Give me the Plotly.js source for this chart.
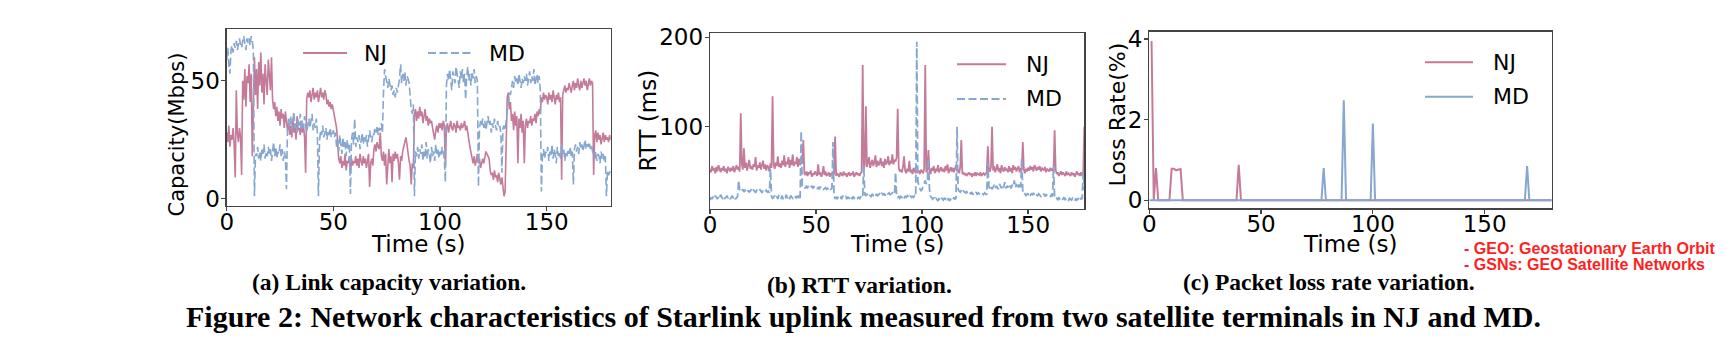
<!DOCTYPE html>
<html><head><meta charset="utf-8">
<script src="https://cdn.plot.ly/plotly-3.0.1.min.js"></script>
<style>html,body{margin:0;padding:0;background:#fff;overflow:hidden}#chart{width:1735px;height:343px}</style>
</head><body><div id="chart"></div>
<script>
// ---------- data ----------
const seriesNames = ['NJ', 'MD'];
const capStep = 0.5;   // seconds between capacity samples
const capNJ = [
28,24,31,22,27,25,30,23,9,46,28,24,30,26,10,50,42,55,39,52,
49,57,41,53,18,47,60,44,55,38,58,48,62,45,53,40,57,50,44,59,
52,46,60,42,38,41,35,39,33,37,31,38,34,36,30,37,33,29,32,27,
31,26,34,28,32,25,35,29,30,27,33,28,31,26,11,42,45,43,46,41,
44,47,42,45,43,46,41,44,47,43,45,42,46,44,40,42,39,41,38,40,
37,35,32,30,24,17,15,18,13,16,14,19,12,16,15,18,11,17,14,16,
15,18,14,17,13,19,16,14,18,15,17,13,16,19,5,15,17,14,21,23,
20,24,22,21,28,18,16,20,14,19,6,17,21,15,18,7,19,16,20,17,
19,15,8,18,16,20,22,25,26,23,19,16,14,6,15,13,36,38,33,37,
34,39,35,37,32,36,38,33,35,31,34,32,33,30,27,25,29,31,28,32,
30,32,29,33,31,14,30,32,28,31,33,30,29,32,31,28,33,30,31,29,
32,30,31,33,29,31,27,25,22,20,17,15,18,14,16,19,15,17,13,16,
17,15,18,20,19,18,17,12,10,11,8,12,9,10,7,11,8,6,9,4,
1,3,30,43,45,38,41,33,36,29,37,31,35,15,34,30,36,28,33,15,
31,34,30,33,32,35,31,34,33,36,32,37,35,38,36,43,41,45,42,44,
43,40,45,42,44,41,46,43,40,44,42,45,41,43,8,44,46,48,45,47,
46,49,47,45,48,50,46,49,47,51,48,46,50,47,49,51,48,50,46,49,
51,48,50,49,10,27,29,24,28,25,27,23,26,28,24,27,25,26,24,27,25];
const capMD = [
59,64,57,53,63,65,62,66,64,67,63,66,68,65,64,67,69,66,63,68,
66,68,65,69,67,63,1,19,18,22,17,20,16,21,19,23,17,20,18,22,
19,21,16,20,24,18,22,17,20,19,23,18,21,16,20,18,4,30,34,31,
35,29,33,37,30,32,28,34,31,36,29,33,30,35,32,28,31,34,30,33,
36,29,32,30,34,28,1,24,29,27,31,26,28,30,25,29,27,30,26,28,
29,26,28,22,25,20,27,23,19,26,22,24,18,25,21,23,2,25,28,23,
34,22,26,24,27,21,25,28,23,26,24,27,22,25,29,26,24,28,27,30,
28,31,27,30,29,32,28,45,55,52,50,47,51,49,46,48,44,46,43,47,
45,48,51,57,49,53,50,54,48,52,51,49,42,38,36,40,1,20,18,22,
17,21,19,23,16,20,18,24,17,21,19,15,22,18,20,16,23,19,21,17,
20,18,22,19,17,7,48,53,50,55,51,46,54,52,49,56,53,50,47,54,
51,55,49,53,42,52,56,50,53,48,54,51,55,49,52,50,5,30,33,31,
34,30,33,29,32,35,31,33,28,32,30,34,31,29,33,30,31,28,11,30,
31,29,33,38,42,45,44,48,50,47,52,49,51,48,53,50,47,51,49,52,
50,53,48,51,54,49,52,50,55,48,51,53,49,52,46,3,18,21,17,20,
19,22,16,20,18,23,17,21,19,15,22,18,20,17,23,19,21,16,20,18,
21,19,22,18,20,6,21,23,20,22,19,24,21,23,20,22,25,21,23,22,
24,21,23,20,19,17,20,16,19,18,15,20,17,19,16,18,1,12,10,11,12];

const rttStep = 0.5;   // seconds between RTT samples
const rttNJ = [
53,49,56,51,54,48,55,50,57,52,49,54,51,56,50,53,48,55,52,50,
54,51,56,49,53,57,52,55,50,115,58,52,76,54,60,51,57,63,53,56,
52,58,55,66,51,57,54,60,52,56,62,53,58,51,57,55,50,59,54,134,
58,53,60,56,67,55,59,54,62,57,68,55,61,58,66,54,63,57,69,56,
61,58,66,55,64,57,60,59,85,48,46,50,45,49,47,51,44,48,46,50,
47,45,58,46,49,44,48,56,46,50,45,47,49,44,48,46,50,47,89,45,
48,46,44,49,47,45,50,46,48,44,47,49,45,48,46,50,44,47,49,46,
48,45,47,50,169,52,58,123,55,61,66,54,59,63,56,60,68,55,62,57,
59,65,56,61,54,64,58,60,67,57,62,59,69,58,63,61,66,120,54,50,
52,49,55,67,51,48,53,50,62,49,52,47,54,50,48,53,49,51,47,52,
50,48,53,169,49,52,74,50,47,54,51,56,48,53,50,57,49,52,55,50,
53,49,56,51,58,48,52,55,50,54,49,53,57,50,52,48,55,85,47,49,
46,48,45,47,49,46,48,44,47,46,49,45,48,47,46,49,45,47,48,46,
47,49,78,52,50,55,100,51,56,49,53,58,50,54,48,57,52,50,55,51,
53,49,56,50,54,48,57,52,55,50,53,56,49,54,51,83,52,48,53,50,
54,51,56,52,55,50,57,53,51,55,52,56,50,54,53,51,55,49,53,52,
50,54,51,53,49,96,52,47,49,45,48,50,46,49,47,45,50,46,48,47,
45,49,46,48,44,47,50,46,48,45,49,46,47,100];
const rttMD = [
18,21,19,22,20,23,21,19,22,20,24,21,19,22,20,21,23,20,22,19,
21,23,20,22,19,21,22,40,29,27,28,30,27,29,28,26,29,27,28,30,
27,29,28,26,29,28,27,30,28,26,29,27,28,29,27,28,26,53,22,20,
21,23,20,22,19,24,21,20,23,19,22,21,24,20,22,19,23,21,20,22,
23,20,22,21,24,20,95,34,32,33,31,34,32,33,31,32,34,31,33,32,
33,31,32,30,33,31,32,30,31,32,30,31,29,31,30,31,83,22,20,21,
19,22,20,21,19,23,20,21,22,19,21,20,23,21,19,22,20,21,22,20,
21,19,22,20,21,57,24,23,25,22,24,23,22,25,23,24,22,25,23,24,
25,23,26,24,25,23,26,24,25,26,24,25,26,24,25,49,23,21,22,20,
22,21,23,20,22,21,23,22,20,23,21,22,21,23,22,195,40,33,30,28,
30,34,38,40,36,38,64,30,22,20,19,21,18,20,19,17,20,18,21,19,
18,20,19,21,18,20,17,19,20,18,21,19,20,100,30,28,27,29,26,28,
27,26,28,25,27,26,25,27,24,26,25,27,24,26,25,24,26,25,24,26,
25,24,60,33,31,34,30,33,35,31,34,32,30,36,33,31,35,32,38,31,
34,32,36,33,31,35,33,40,32,35,34,33,37,32,65,26,24,25,23,25,
24,26,23,25,24,26,23,25,24,23,25,24,22,24,23,25,22,24,23,22,
23,22,24,22,56,21,19,20,18,21,19,20,18,19,21,18,20,19,17,20,
19,18,20,19,17,20,18,19,21,18,20,19,50,30];

const lossTimeNJ = [1, 2, 3, 4, 9, 10, 11, 12, 13, 14, 15, 39, 40, 41, 180];
const lossNJ     = [3.95, 0, 0.8, 0, 0, 0.78, 0.78, 0.74, 0.76, 0.77, 0, 0, 0.88, 0, 0];
const lossTimeMD = [0, 77, 78, 79, 86, 87, 88, 99, 100, 101, 168, 169, 170, 180];
const lossMD     = [0, 0, 0.8, 0, 0, 2.48, 0, 0, 1.9, 0, 0, 0.85, 0, 0];

const timeTicks = [0, 50, 100, 150];
const capTicks = [0, 50];
const rttTicks = [100, 200];
const lossTicks = [0, 2, 4];

const xTitle = 'Time (s)';
const capTitle = 'Capacity(Mbps)';
const rttTitle = 'RTT (ms)';
const lossTitle = 'Loss Rate(%)';
const subCaptions = ['(a) Link capacity variation.', '(b) RTT variation.', '(c) Packet loss rate variation.'];
const figCaption = 'Figure 2: Network characteristics of Starlink uplink measured from two satellite terminals in NJ and MD.';
const notes = ['- GEO: Geostationary Earth Orbit', '- GSNs: GEO Satellite Networks'];

// ---------- drawing ----------
const W = 1735, H = 343;
const px = v => v / W, py = v => 1 - v / H;
const C_NJ = '#c47a99', C_MD = '#86a7d0';
const DASH = '8px,3.5px';
const times = (arr, step) => arr.map((_, i) => i * step);

const traces = [
  {x: times(capNJ, capStep), y: capNJ, xaxis: 'x', yaxis: 'y', name: seriesNames[0], mode: 'lines', line: {color: C_NJ, width: 1.6}},
  {x: times(capMD, capStep), y: capMD, xaxis: 'x', yaxis: 'y', name: seriesNames[1], mode: 'lines', line: {color: C_MD, width: 1.6, dash: DASH}},
  {x: times(rttNJ, rttStep), y: rttNJ, xaxis: 'x2', yaxis: 'y2', name: seriesNames[0], mode: 'lines', line: {color: C_NJ, width: 1.8}},
  {x: times(rttMD, rttStep), y: rttMD, xaxis: 'x2', yaxis: 'y2', name: seriesNames[1], mode: 'lines', line: {color: C_MD, width: 1.8, dash: DASH}},
  {x: lossTimeNJ, y: lossNJ, xaxis: 'x3', yaxis: 'y3', name: seriesNames[0], mode: 'lines', line: {color: C_NJ, width: 2}},
  {x: lossTimeMD, y: lossMD, xaxis: 'x3', yaxis: 'y3', name: seriesNames[1], mode: 'lines', line: {color: C_MD, width: 2}}
];

const tickFont = {family: 'DejaVu Sans', size: 23, color: '#000'};
function ax(extra) {
  return Object.assign({showline: true, mirror: true, linecolor: '#444', linewidth: 1.3,
    ticks: 'outside', ticklen: 4, tickwidth: 1.2, tickcolor: '#444',
    showgrid: false, zeroline: false, tickfont: tickFont, fixedrange: true}, extra);
}
const xs = {ticklabelstandoff: -9};
const ys = {ticklabelstandoff: -3};

const layout = {
  width: W, height: H, margin: {l: 0, r: 0, t: 0, b: 0},
  paper_bgcolor: '#fff', plot_bgcolor: '#fff', showlegend: false,
  xaxis:  ax(Object.assign({domain: [px(226.7), px(610.7)], range: [0, 180], tickvals: timeTicks, anchor: 'y'}, xs)),
  yaxis:  ax(Object.assign({domain: [py(205.7), py(29)], range: [-3, 72], tickvals: capTicks, anchor: 'x'}, ys)),
  xaxis2: ax(Object.assign({domain: [px(710), px(1084.3)], range: [0, 176.5], tickvals: timeTicks, anchor: 'y2'}, xs)),
  yaxis2: ax(Object.assign({domain: [py(209), py(33.3)], range: [8, 204.5], tickvals: rttTicks, anchor: 'x2'}, ys)),
  xaxis3: ax(Object.assign({domain: [px(1149.3), px(1551.7)], range: [0, 180], tickvals: timeTicks, anchor: 'y3'}, xs)),
  yaxis3: ax(Object.assign({domain: [py(208.3), py(31.7)], range: [-0.2, 4.18], tickvals: lossTicks, anchor: 'x3'}, ys)),
  shapes: [], annotations: []
};

function txt(text, x, y, opts) {
  layout.annotations.push(Object.assign({text: text, x: px(x), y: py(y), xref: 'paper', yref: 'paper',
    showarrow: false, xanchor: 'center', yanchor: 'middle',
    font: {family: 'DejaVu Sans', size: 23, color: '#000'}}, opts || {}));
}
function legLine(x0, x1, y, color, dash) {
  layout.shapes.push({type: 'line', xref: 'paper', yref: 'paper', x0: px(x0), x1: px(x1), y0: py(y), y1: py(y),
    line: {color: color, width: 2, dash: dash || 'solid'}});
}

// axis titles
txt(xTitle, 418, 244);
txt(xTitle, 897.5, 244);
txt(xTitle, 1350, 244);
txt(capTitle, 176.5, 135, {textangle: -90, font: {family: 'DejaVu Sans', size: 21, color: '#000'}});
txt(rttTitle, 647.5, 121, {textangle: -90});
txt(lossTitle, 1117, 114.5, {textangle: -90, font: {family: 'DejaVu Sans', size: 22, color: '#000'}});

// legends
const legFont = {family: 'DejaVu Sans', size: 22, color: '#000'};
legLine(303, 347, 53, C_NJ); txt(seriesNames[0], 362, 53, {xanchor: 'left', font: legFont});
legLine(428, 472, 53, C_MD, DASH); txt(seriesNames[1], 487, 53, {xanchor: 'left', font: legFont});
legLine(957, 1006, 64.3, C_NJ); txt(seriesNames[0], 1024, 64.3, {xanchor: 'left', font: legFont});
legLine(957, 1006, 99, C_MD, DASH); txt(seriesNames[1], 1024, 99, {xanchor: 'left', font: legFont});
legLine(1425, 1473, 62.3, C_NJ); txt(seriesNames[0], 1491, 62.3, {xanchor: 'left', font: legFont});
legLine(1425, 1473, 96.7, C_MD); txt(seriesNames[1], 1491, 96.7, {xanchor: 'left', font: legFont});

// captions
const capFont = s => ({family: 'Liberation Serif', size: s, color: '#000'});
txt('<b>' + subCaptions[0] + '</b>', 389, 281.5, {font: capFont(23.5)});
txt('<b>' + subCaptions[1] + '</b>', 859, 285, {font: capFont(23.5)});
txt('<b>' + subCaptions[2] + '</b>', 1329, 281.5, {font: capFont(23.5)});
txt('<b>' + figCaption + '</b>', 863, 316.5, {font: capFont(30)});

// red notes
const noteFont = {family: 'Liberation Sans', size: 16, color: '#ff1f1f'};
txt('<b>' + notes[0] + '</b>', 1462, 248, {xanchor: 'left', font: noteFont});
txt('<b>' + notes[1] + '</b>', 1462, 264.5, {xanchor: 'left', font: noteFont});

Plotly.newPlot('chart', traces, layout, {staticPlot: true, displayModeBar: false});
</script>
</body></html>
